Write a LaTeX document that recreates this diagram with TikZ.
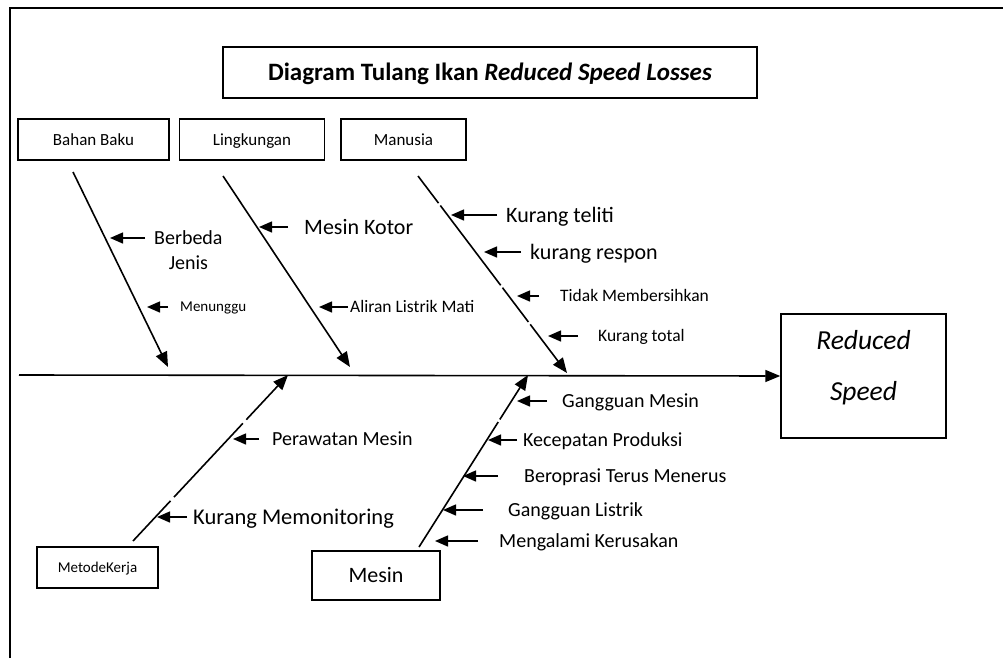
\documentclass[tikz,border=0pt]{standalone}
\usepackage{fontspec}
\setmainfont{Carlito}
\usetikzlibrary{arrows.meta,positioning}
\newcommand{\fsz}[1]{\fontsize{#1}{#1}\selectfont}
\begin{document}
\begin{tikzpicture}[x=1pt,y=-1pt,
  box/.style={draw,line width=1.5pt,inner sep=0pt,font=\fsz{#1},text height={0.85*#1pt},text depth={0.2*#1pt}},
  bone/.style={line width=1.6pt,-{Triangle[length=15pt,width=12pt]}},
  arr/.style={line width=1.4pt,-{Triangle[length=13pt,width=11pt]}},
  cause/.style={anchor=west,inner sep=0pt,font=\fsz{#1},text height={0.85*#1pt},text depth={0.2*#1pt}}]
\useasboundingbox (0,0) rectangle (1003,658);
\draw [line width=1.5pt] (10,658) -- (10,8) -- (1003,8) ;

\node [box=25,minimum width=534pt,minimum height=51pt,font=\fsz{25}\bfseries] (title) at (490,72.5) {Diagram Tulang Ikan \textit{Reduced Speed Losses}};
\node [box=17,minimum width=151pt,minimum height=41pt] (bahan) at (93.5,139.5) {Bahan Baku};
\node [box=17,minimum width=145pt,minimum height=41pt,right=9pt of bahan] (lingk) {Lingkungan};
\node [box=17,minimum width=125pt,minimum height=41pt,right=15pt of lingk] (manusia) {Manusia};
\node [box=15,minimum width=121pt,minimum height=41pt] (metode) at (97.5,567.5) {MetodeKerja};
\node [box=22,minimum width=128pt,minimum height=49pt] (mesin) at (376,575.5) {Mesin};
\node [box=10,minimum width=165pt,minimum height=124pt] (reduced) at (863.5,376) {};
\node [align=center,font=\fontsize{27.5}{51}\selectfont\itshape] (reducedtxt) at (863.5,368) {Reduced\\Speed};

\coordinate (spine) at (19,375) ;
\draw [bone] (spine) -- (reduced.west) ;

\coordinate (bbtop) at (73,172) ; \coordinate (bbend) at (168,367) ;
\coordinate (lgtop) at (223,176) ; \coordinate (lgend) at (350,367) ;
\coordinate (mntop) at (418,176) ; \coordinate (mnend) at (567,373) ;
\coordinate (mkbot) at (133,541) ; \coordinate (mkend) at (288,375) ;
\coordinate (msbot) at (419,547) ; \coordinate (msend) at (528,375) ;
\draw [bone] (bbtop) -- (bbend) ;
\draw [bone] (lgtop) -- (lgend) ;
\draw [bone,dash pattern=on 34pt off 3pt on 100pt off 3pt on 43pt off 3pt on 100pt] (mntop) -- (mnend) ;
\draw [bone,dash pattern=on 55pt off 5pt on 101pt off 5pt on 100pt] (mkbot) -- (mkend) ;
\draw [bone,dash pattern=on 148pt off 3pt on 100pt] (msbot) -- (msend) ;

\node [cause=20] (berbeda) at (154,238) {Berbeda};
\node [cause=20,anchor=north,yshift=-4pt] (jenis) at (berbeda.south) {Jenis};
\node [cause=15] (menunggu) at (180,307) {Menunggu};
\node [cause=22] (kotor) at (304,227) {Mesin Kotor};
\node [cause=17.5] (aliran) at (350,307) {Aliran Listrik Mati};
\node [cause=22] (teliti) at (506,215) {Kurang teliti};
\node [cause=22] (respon) at (530,252) {kurang respon};
\node [cause=17.5] (tidak) at (560,296) {Tidak Membersihkan};
\node [cause=17.5] (total) at (598,336) {Kurang total};
\node [cause=20] (perawatan) at (272,439) {Perawatan Mesin};
\node [cause=22.5] (monitor) at (193,517) {Kurang Memonitoring};
\node [cause=20] (gmesin) at (562,401) {Gangguan Mesin};
\node [cause=20] (kecepatan) at (523,440) {Kecepatan Produksi};
\node [cause=20] (beroprasi) at (524,476) {Beroprasi Terus Menerus};
\node [cause=20] (glistrik) at (508,510) {Gangguan Listrik};
\node [cause=20] (rusak) at (499,541) {Mengalami Kerusakan};

\coordinate (c1) at (110,238) ; \coordinate (c2) at (147,307) ;
\coordinate (c3) at (259,227) ; \coordinate (c4) at (319,307) ;
\coordinate (c5) at (451,215) ; \coordinate (c6) at (484,252) ;
\coordinate (c7) at (517,296) ; \coordinate (c8) at (548,336) ;
\coordinate (c9) at (233,439) ; \coordinate (c10) at (157,517) ;
\coordinate (c11) at (517,401) ; \coordinate (c12) at (488,440) ;
\coordinate (c13) at (463,476) ; \coordinate (c14) at (443,510) ;
\coordinate (c15) at (435,541) ;
\draw [arr] ([xshift=-9pt]berbeda.west) -- (c1) ;
\draw [arr] ([xshift=-12pt]menunggu.west) -- (c2) ;
\draw [arr] ([xshift=-16pt]kotor.west) -- (c3) ;
\draw [arr] ([xshift=-2pt]aliran.west) -- (c4) ;
\draw [arr] ([xshift=-9pt]teliti.west) -- (c5) ;
\draw [arr] ([xshift=-9pt]respon.west) -- (c6) ;
\draw [arr] ([xshift=-21pt]tidak.west) -- (c7) ;
\draw [arr] ([xshift=-20pt]total.west) -- (c8) ;
\draw [arr] ([xshift=-13pt]perawatan.west) -- (c9) ;
\draw [arr] ([xshift=-6pt]monitor.west) -- (c10) ;
\draw [arr] ([xshift=-15pt]gmesin.west) -- (c11) ;
\draw [arr] ([xshift=-6pt]kecepatan.west) -- (c12) ;
\draw [arr] ([xshift=-26pt]beroprasi.west) -- (c13) ;
\draw [arr] ([xshift=-25pt]glistrik.west) -- (c14) ;
\draw [arr] ([xshift=-21pt]rusak.west) -- (c15) ;
\end{tikzpicture}
\end{document}
